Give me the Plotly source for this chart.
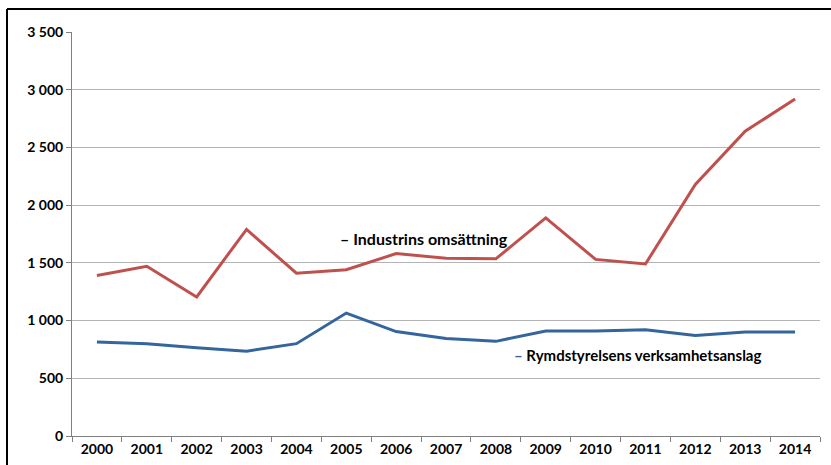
import plotly.graph_objects as go

years = [str(y) for y in range(2000, 2015)]
industri = [1390, 1470, 1205, 1790, 1410, 1440, 1580, 1540, 1535, 1890, 1530, 1490, 2180, 2640, 2920]
rymd = [815, 800, 765, 735, 800, 1065, 905, 845, 820, 910, 910, 920, 870, 900, 900]

FONT = "Lato"

fig = go.Figure()
fig.add_trace(go.Scatter(x=years, y=industri, mode="lines",
                         line=dict(color="#C0504D", width=3), name="Industrins omsättning"))
fig.add_trace(go.Scatter(x=years, y=rymd, mode="lines",
                         line=dict(color="#34659C", width=3), name="Rymdstyrelsens verksamhetsanslag"))

fig.update_layout(
    width=831, height=465,
    margin=dict(l=72, r=11, t=32, b=29, autoexpand=False),
    paper_bgcolor="white", plot_bgcolor="white",
    showlegend=False,
    separators=", ",
    font=dict(family=FONT, size=12, color="black"),
)
fig.update_xaxes(
    type="category", tickson="boundaries", ticks="outside", ticklen=5,
    range=[-0.5, len(years) - 0.5], automargin=False,
    tickcolor="#808080", showline=True, linecolor="#808080", linewidth=1,
    showgrid=False, tickfont=dict(family=FONT, size=14, color="black", weight="bold"),
)
fig.update_yaxes(
    range=[0, 3500], dtick=500, tickformat=",d", ticks="outside", ticklen=5,
    automargin=False,
    tickcolor="#808080", showline=True, linecolor="#808080", linewidth=1,
    showgrid=True, gridcolor="#b4b4b4", gridwidth=1, zeroline=False,
    tickfont=dict(family=FONT, size=14, color="black", weight="bold"),
)

fig.add_annotation(xref="paper", yref="paper", x=0.3556, y=0.490, xanchor="left", yanchor="middle",
                   text="– Industrins omsättning", showarrow=False,
                   font=dict(family=FONT, size=16, color="black", weight="bold"))
fig.add_annotation(xref="paper", yref="paper", x=0.588, y=0.2005, xanchor="left", yanchor="middle",
                   text="<span style='color:#34659C'>–</span> Rymdstyrelsens verksamhetsanslag", showarrow=False,
                   font=dict(family=FONT, size=15, color="black", weight="bold"))

# outer frame (top and left edges visible)
fx0 = (7 - 72) / 748
fy1 = (436 - 9) / 404
fig.add_shape(type="line", xref="paper", yref="paper", x0=fx0, x1=1.05, y0=fy1, y1=fy1,
              line=dict(color="black", width=2), layer="below")
fig.add_shape(type="line", xref="paper", yref="paper", x0=fx0, x1=fx0, y0=-0.2, y1=fy1,
              line=dict(color="black", width=2), layer="below")

fig.write_html("out.html")
